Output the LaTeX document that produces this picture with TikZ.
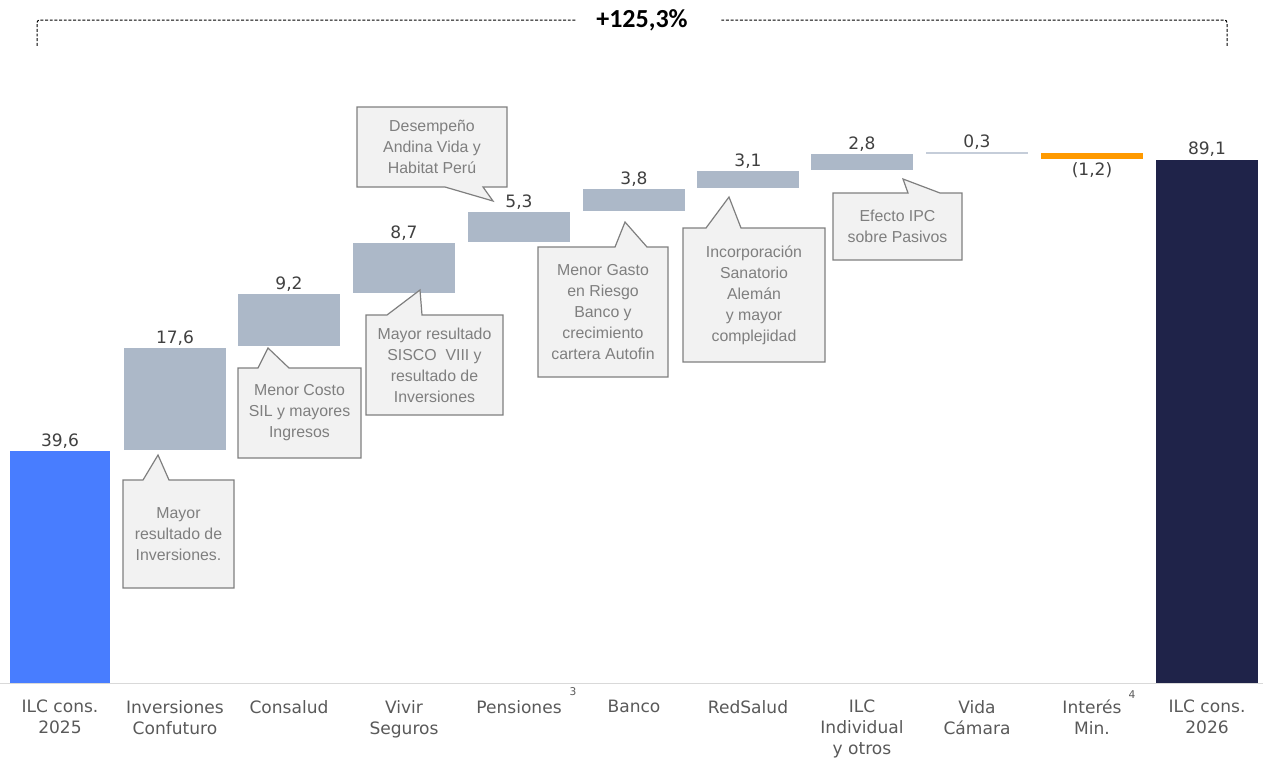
\documentclass[tikz,border=0pt]{standalone}
\usepackage{fontspec}
\setmainfont{DejaVu Sans}
\newfontfamily\arialf{Liberation Sans}
\newfontfamily\calib{Carlito}
\definecolor{blueb}{HTML}{487DFF}
\definecolor{grayb}{HTML}{ACB8C8}
\definecolor{thinb}{HTML}{C5CDD9}
\definecolor{orangeb}{HTML}{FF9A00}
\definecolor{navyb}{HTML}{1F2349}
\definecolor{cfill}{HTML}{F2F2F2}
\definecolor{cdraw}{HTML}{7F7F7F}
\definecolor{ctxt}{HTML}{7F7F7F}
\definecolor{valtxt}{HTML}{404040}
\definecolor{cattxt}{HTML}{595959}
\definecolor{axisc}{HTML}{D9D9D9}
\begin{document}
\begin{tikzpicture}[x=0.75pt,y=-0.75pt,
  callout/.style={fill=cfill,draw=cdraw,line width=0.9pt,line join=miter},
  ctext/.style={font=\arialf\fontsize{11.9}{15.75}\selectfont,text=ctxt,align=center,inner sep=0pt},
  val/.style={font=\fontsize{12.8}{15}\selectfont,text=valtxt,anchor=base,inner sep=0pt},
  cat/.style={font=\fontsize{12.8}{15.75}\selectfont,text=cattxt,anchor=north,align=center,inner sep=0pt},
  supr/.style={font=\fontsize{8}{9}\selectfont,text=cattxt,inner sep=0pt},
  brk/.style={draw=black,line width=0.75pt,dash pattern=on 2.2pt off 1.3pt,rounded corners=2pt}]
\useasboundingbox (0,0) rectangle (1263,760);

% axis
\draw[axisc,line width=0.75pt] (0,683.5) -- (1263,683.5);

% bars
\fill[blueb] (10,451) rectangle (110,683);
\fill[grayb] (124,348) rectangle (226,450);
\fill[grayb] (238,294) rectangle (340,346);
\fill[grayb] (353,243) rectangle (455,293);
\fill[grayb] (468,212) rectangle (570,242);
\fill[grayb] (583,189) rectangle (685,211);
\fill[grayb] (697,171) rectangle (799,188);
\fill[grayb] (811,154) rectangle (913,170);
\draw[thinb,line width=1.3pt] (926,153) -- (1028,153);
\fill[orangeb] (1041,153) rectangle (1143,159);
\fill[navyb] (1156,160) rectangle (1258,683);

% values
\node[val] (v1) at (60,446) {39,6};
\node[val] (v2) at (175,343) {17,6};
\node[val] (v3) at (289,289) {9,2};
\node[val] (v4) at (404,238) {8,7};
\node[val] (v5) at (519,207) {5,3};
\node[val] (v6) at (634,184) {3,8};
\node[val] (v7) at (748,166) {3,1};
\node[val] (v8) at (862,149) {2,8};
\node[val] (v9) at (977,147) {0,3};
\node[val] (v10) at (1092,175) {(1,2)};
\node[val] (v11) at (1207,154) {89,1};

% categories
\node[cat] (k1) at (60,700) {ILC cons.\\2025};
\node[cat] (k2) at (175,700) {Inversiones\\Confuturo};
\node[cat] (k3) at (289,700) {Consalud};
\node[cat] (k4) at (404,700) {Vivir\\Seguros};
\node[cat] (k5) at (519,700) {Pensiones};
\node[supr] (s5) at (573,692) {3};
\node[cat] (k6) at (634,700) {Banco};
\node[cat] (k7) at (748,700) {RedSalud};
\node[cat] (k8) at (862,700) {ILC\\Individual\\y otros};
\node[cat] (k9) at (977,700) {Vida\\Cámara};
\node[cat] (k10) at (1092,700) {Interés\\Min.};
\node[supr] (s10) at (1132,695) {4};
\node[cat] (k11) at (1207,700) {ILC cons.\\2026};

% callouts
\draw[callout] (123,480) -- (143,480) -- (158,455) -- (169,480) -- (234,480) -- (234,588) -- (123,588) -- cycle;
\node[ctext] (c1) at (178.5,534) {Mayor\\resultado de\\Inversiones.};

\draw[callout] (238,368) -- (258,368) -- (268,348) -- (289,368) -- (361,368) -- (361,458) -- (238,458) -- cycle;
\node[ctext] (c2) at (299.5,413) {Menor Costo\\SIL y mayores\\Ingresos};

\draw[callout] (357,107) -- (507,107) -- (507,187) -- (483,187) -- (493,201) -- (445,187) -- (357,187) -- cycle;
\node[ctext] (c3) at (432,147) {Desempeño\\Andina Vida y\\Habitat Perú};

\draw[callout] (366,315) -- (387,315) -- (420,290) -- (422,315) -- (503,315) -- (503,415) -- (366,415) -- cycle;
\node[ctext] (c4) at (434.5,365) {Mayor resultado\\SISCO\ \ VIII y\\resultado de\\Inversiones};

\draw[callout] (538,247) -- (615,247) -- (625,222) -- (647,247) -- (668,247) -- (668,377) -- (538,377) -- cycle;
\node[ctext] (c5) at (603,312) {Menor Gasto\\en Riesgo\\Banco y\\crecimiento\\cartera Autofin};

\draw[callout] (683,228) -- (706,228) -- (729,197) -- (741,228) -- (825,228) -- (825,362) -- (683,362) -- cycle;
\node[ctext] (c6) at (754,295) {Incorporación\\Sanatorio\\Alemán\\y mayor\\complejidad};

\draw[callout] (833,193) -- (908,193) -- (903,179) -- (940,193) -- (962,193) -- (962,260) -- (833,260) -- cycle;
\node[ctext] (c7) at (897.5,226.5) {Efecto IPC\\sobre Pasivos};

% top bracket
\node[font=\calib\bfseries\fontsize{19.5}{22}\selectfont,inner sep=0pt] (pct) at (642,20) {+125,3\%};
\draw[brk] ([xshift=-15.5pt]pct.west) -| (37,46);
\draw[brk] ([xshift=25pt]pct.east) -| (1227,46);
\end{tikzpicture}
\end{document}
